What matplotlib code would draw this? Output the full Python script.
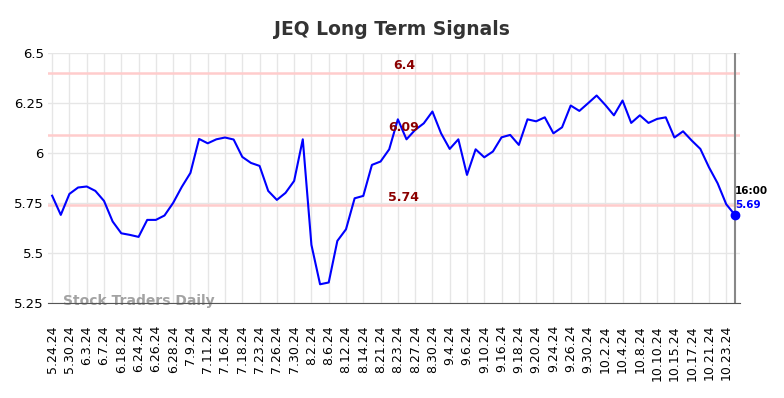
import matplotlib
matplotlib.use('Agg')
import matplotlib.pyplot as plt

# closing prices, two sessions per labelled tick
prices = [5.786, 5.69, 5.795, 5.827, 5.832, 5.81, 5.76, 5.657, 5.598, 5.59,
          5.58, 5.665, 5.665, 5.687, 5.75, 5.83, 5.90, 6.07, 6.048, 6.068,
          6.077, 6.067, 5.98, 5.95, 5.935, 5.81, 5.765, 5.80, 5.86, 6.068,
          5.54, 5.343, 5.352, 5.56, 5.618, 5.773, 5.785, 5.94, 5.957, 6.018,
          6.168, 6.068, 6.115, 6.148, 6.207, 6.098, 6.02, 6.068, 5.89, 6.018,
          5.978, 6.007, 6.078, 6.09, 6.04, 6.168, 6.158, 6.178, 6.098, 6.128,
          6.237, 6.21, 6.248, 6.287, 6.24, 6.188, 6.262, 6.15, 6.188, 6.15,
          6.17, 6.178, 6.077, 6.108, 6.062, 6.02, 5.928, 5.848, 5.743, 5.69]

tick_labels = ['5.24.24', '5.30.24', '6.3.24', '6.7.24', '6.18.24', '6.24.24',
               '6.26.24', '6.28.24', '7.9.24', '7.11.24', '7.16.24', '7.18.24',
               '7.23.24', '7.26.24', '7.30.24', '8.2.24', '8.6.24', '8.12.24',
               '8.14.24', '8.21.24', '8.23.24', '8.27.24', '8.30.24', '9.4.24',
               '9.6.24', '9.10.24', '9.16.24', '9.18.24', '9.20.24', '9.24.24',
               '9.26.24', '9.30.24', '10.2.24', '10.4.24', '10.8.24', '10.10.24',
               '10.15.24', '10.17.24', '10.21.24', '10.23.24']

signals = [6.4, 6.09, 5.74]
last_time = '16:00'

fig = plt.figure(figsize=(7.84, 3.98), dpi=100)
ax = fig.add_axes([0.061, 0.239, 0.883, 0.628])

x = list(range(len(prices)))
ax.plot(x, prices, color='blue', lw=1.5, zorder=3)
ax.plot(x[-1], prices[-1], 'o', color='blue', ms=6, zorder=4)

for s in signals:
    ax.axhline(s, color='#ffcccc', lw=1.8, zorder=2)
    ax.text(40.7, s + 0.035, str(s), color='#8b0000', fontsize=9,
            fontweight='bold', ha='center', va='center', zorder=5)

ax.axvline(x[-1], color='#888888', lw=1.5, zorder=2)
ax.text(x[-1], prices[-1] + 0.095, last_time, fontsize=7.5, fontweight='bold',
        color='black', ha='left', va='bottom')
ax.text(x[-1], prices[-1] + 0.025, '%.2f' % prices[-1], fontsize=7.5,
        fontweight='bold', color='blue', ha='left', va='bottom')

ax.set_xticks(x[::2])
ax.set_xticklabels(tick_labels, rotation=90, fontsize=9)
ax.set_xlim(-0.5, 79.6)
ax.set_ylim(5.25, 6.5)
ax.set_yticks([5.25, 5.5, 5.75, 6.0, 6.25, 6.5])
ax.set_yticklabels(['5.25', '5.5', '5.75', '6', '6.25', '6.5'], fontsize=9.5)
ax.grid(True, color='#e6e6e6', lw=1)
ax.set_axisbelow(True)
ax.tick_params(axis='x', length=0, pad=16)
ax.tick_params(axis='y', length=0, pad=3)

for side in ['top', 'right', 'left']:
    ax.spines[side].set_visible(False)
ax.spines['bottom'].set_color('#555555')

ax.text(1.2, 5.257, 'Stock Traders Daily', fontsize=10, fontweight='bold',
        color='#999999', alpha=0.9, va='center', zorder=1)

fig.suptitle('JEQ Long Term Signals', fontsize=13.5, fontweight='bold',
             color='#333333', y=0.95)

fig.savefig('out.png', dpi=100)
